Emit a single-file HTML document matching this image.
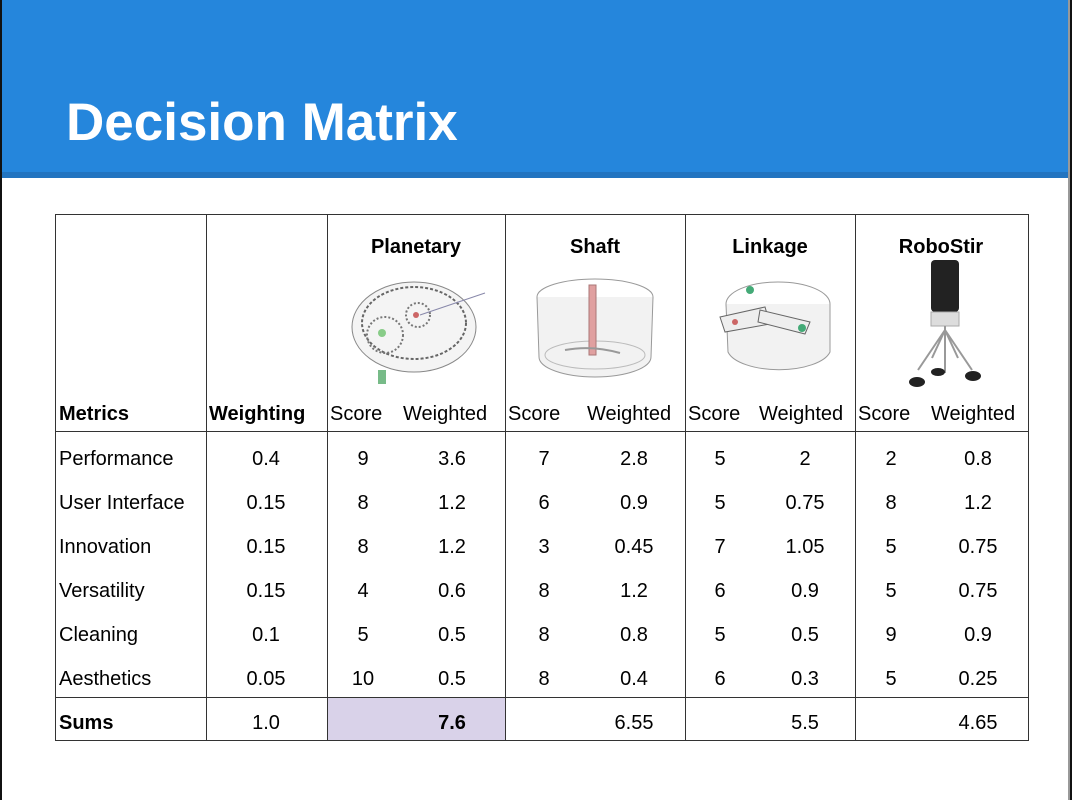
<!DOCTYPE html>
<html><head><style>
body{margin:0;width:1072px;height:800px;overflow:hidden;background:#fff;font-family:"Liberation Sans",sans-serif;position:relative}
.hdr{position:absolute;left:0;top:0;width:1072px;height:172px;background:#2586dc}
.strip{position:absolute;left:0;top:172px;width:1072px;height:6px;background:#2274c0}
.t{position:absolute;left:66px;top:92px;font-size:53px;font-weight:bold;color:#fff}
.lb{position:absolute;left:0;top:0;width:2px;height:800px;background:#111}
.rb{position:absolute;right:0;top:0;width:2px;height:800px;background:#111}
.rg{position:absolute;right:2px;top:0;width:2px;height:800px;background:#999}
.tx{position:absolute;font-size:20px;color:#000;white-space:nowrap}
.c{transform:translateX(-50%)}
.b{font-weight:bold}
.v{position:absolute;width:1px;background:#333}
.h{position:absolute;height:1px;background:#333}
</style></head><body>
<div class="hdr"></div><div class="strip"></div>
<div class="t">Decision Matrix</div>
<div class="lb"></div><div class="rg"></div><div class="rb"></div>
<div style="position:absolute;left:327px;top:697px;width:178px;height:44px;background:#d9d2e9"></div>
<div class="h" style="left:55px;top:214px;width:974px"></div>
<div class="h" style="left:55px;top:431px;width:974px"></div>
<div class="h" style="left:55px;top:697px;width:974px"></div>
<div class="h" style="left:55px;top:740px;width:974px"></div>
<div class="v" style="left:55px;top:214px;height:527px"></div>
<div class="v" style="left:206px;top:214px;height:527px"></div>
<div class="v" style="left:327px;top:214px;height:527px"></div>
<div class="v" style="left:505px;top:214px;height:527px"></div>
<div class="v" style="left:685px;top:214px;height:527px"></div>
<div class="v" style="left:855px;top:214px;height:527px"></div>
<div class="v" style="left:1028px;top:214px;height:527px"></div>

<div class="tx b c" style="left:416px;top:236px">Planetary</div>
<div class="tx b c" style="left:595px;top:236px">Shaft</div>
<div class="tx b c" style="left:770px;top:236px">Linkage</div>
<div class="tx b c" style="left:941px;top:236px">RoboStir</div>

<svg style="position:absolute;left:340px;top:265px" width="150" height="125">
<ellipse cx="74" cy="62" rx="62" ry="45" fill="#f4f4f4" stroke="#888"/>
<ellipse cx="74" cy="58" rx="52" ry="36" fill="none" stroke="#666" stroke-dasharray="3 2" stroke-width="2"/>
<circle cx="45" cy="70" r="18" fill="none" stroke="#777" stroke-dasharray="2 2" stroke-width="2"/>
<circle cx="78" cy="50" r="12" fill="none" stroke="#777" stroke-dasharray="2 2" stroke-width="2"/>
<circle cx="42" cy="68" r="4" fill="#8c8"/><circle cx="76" cy="50" r="3" fill="#c66"/>
<rect x="38" y="105" width="8" height="14" fill="#7b8"/>
<line x1="80" y1="50" x2="145" y2="28" stroke="#88a"/>
</svg>
<svg style="position:absolute;left:525px;top:265px" width="140" height="125">
<ellipse cx="70" cy="32" rx="58" ry="18" fill="none" stroke="#999"/>
<path d="M12 32 L14 92 A56 20 0 0 0 126 92 L128 32" fill="#f2f2f2" stroke="#999"/>
<ellipse cx="70" cy="90" rx="50" ry="14" fill="none" stroke="#bbb"/>
<rect x="64" y="20" width="7" height="70" fill="#e0a0a0" stroke="#a77"/>
<path d="M40 85 Q67 80 95 88" stroke="#999" fill="none" stroke-width="2"/>
</svg>
<svg style="position:absolute;left:710px;top:262px" width="125" height="125">
<ellipse cx="68" cy="42" rx="52" ry="22" fill="none" stroke="#999"/>
<path d="M16 42 L18 90 A52 22 0 0 0 120 90 L120 42" fill="#f2f2f2" stroke="#999"/>
<path d="M10 55 L55 45 L60 62 L15 70Z" fill="#eee" stroke="#666"/>
<path d="M50 48 L100 60 L95 72 L48 60Z" fill="#eee" stroke="#666"/>
<circle cx="92" cy="66" r="4" fill="#4a7"/><circle cx="40" cy="28" r="4" fill="#4a7"/><circle cx="25" cy="60" r="3" fill="#c66"/>
</svg>
<svg style="position:absolute;left:900px;top:258px" width="85" height="135">
<rect x="31" y="2" width="28" height="52" rx="4" fill="#222"/>
<rect x="31" y="54" width="28" height="14" fill="#ddd" stroke="#aaa"/>
<path d="M45 68 L45 115 M45 72 L18 112 M45 72 L72 112 M45 72 L58 100 M45 72 L32 100" stroke="#999" fill="none" stroke-width="2"/>
<ellipse cx="17" cy="124" rx="8" ry="5" fill="#222"/><ellipse cx="73" cy="118" rx="8" ry="5" fill="#222"/><ellipse cx="38" cy="114" rx="7" ry="4" fill="#222"/>
</svg>

<div class="tx b" style="left:59px;top:403px">Metrics</div>
<div class="tx b" style="left:209px;top:403px">Weighting</div>
<div class="tx" style="left:330px;top:403px">Score</div><div class="tx" style="left:403px;top:403px">Weighted</div>
<div class="tx" style="left:508px;top:403px">Score</div><div class="tx" style="left:587px;top:403px">Weighted</div>
<div class="tx" style="left:688px;top:403px">Score</div><div class="tx" style="left:759px;top:403px">Weighted</div>
<div class="tx" style="left:858px;top:403px">Score</div><div class="tx" style="left:931px;top:403px">Weighted</div>

<div id="rows"></div>
<script>
var d=[["Performance","0.4","9","3.6","7","2.8","5","2","2","0.8"],
["User Interface","0.15","8","1.2","6","0.9","5","0.75","8","1.2"],
["Innovation","0.15","8","1.2","3","0.45","7","1.05","5","0.75"],
["Versatility","0.15","4","0.6","8","1.2","6","0.9","5","0.75"],
["Cleaning","0.1","5","0.5","8","0.8","5","0.5","9","0.9"],
["Aesthetics","0.05","10","0.5","8","0.4","6","0.3","5","0.25"],
["Sums","1.0","","7.6","","6.55","","5.5","","4.65"]];
var xs=[0,266,363,452,544,634,720,805,891,978],h="";
d.forEach(function(r,i){var y=448+i*44;r.forEach(function(v,j){
var b=(i==6&&(j==0||j==3))?" b":"";
if(j==0)h+='<div class="tx'+b+'" style="left:59px;top:'+y+'px">'+v+'</div>';
else h+='<div class="tx c'+b+'" style="left:'+xs[j]+'px;top:'+y+'px">'+v+'</div>';});});
document.getElementById("rows").innerHTML=h;
</script>
</body></html>
